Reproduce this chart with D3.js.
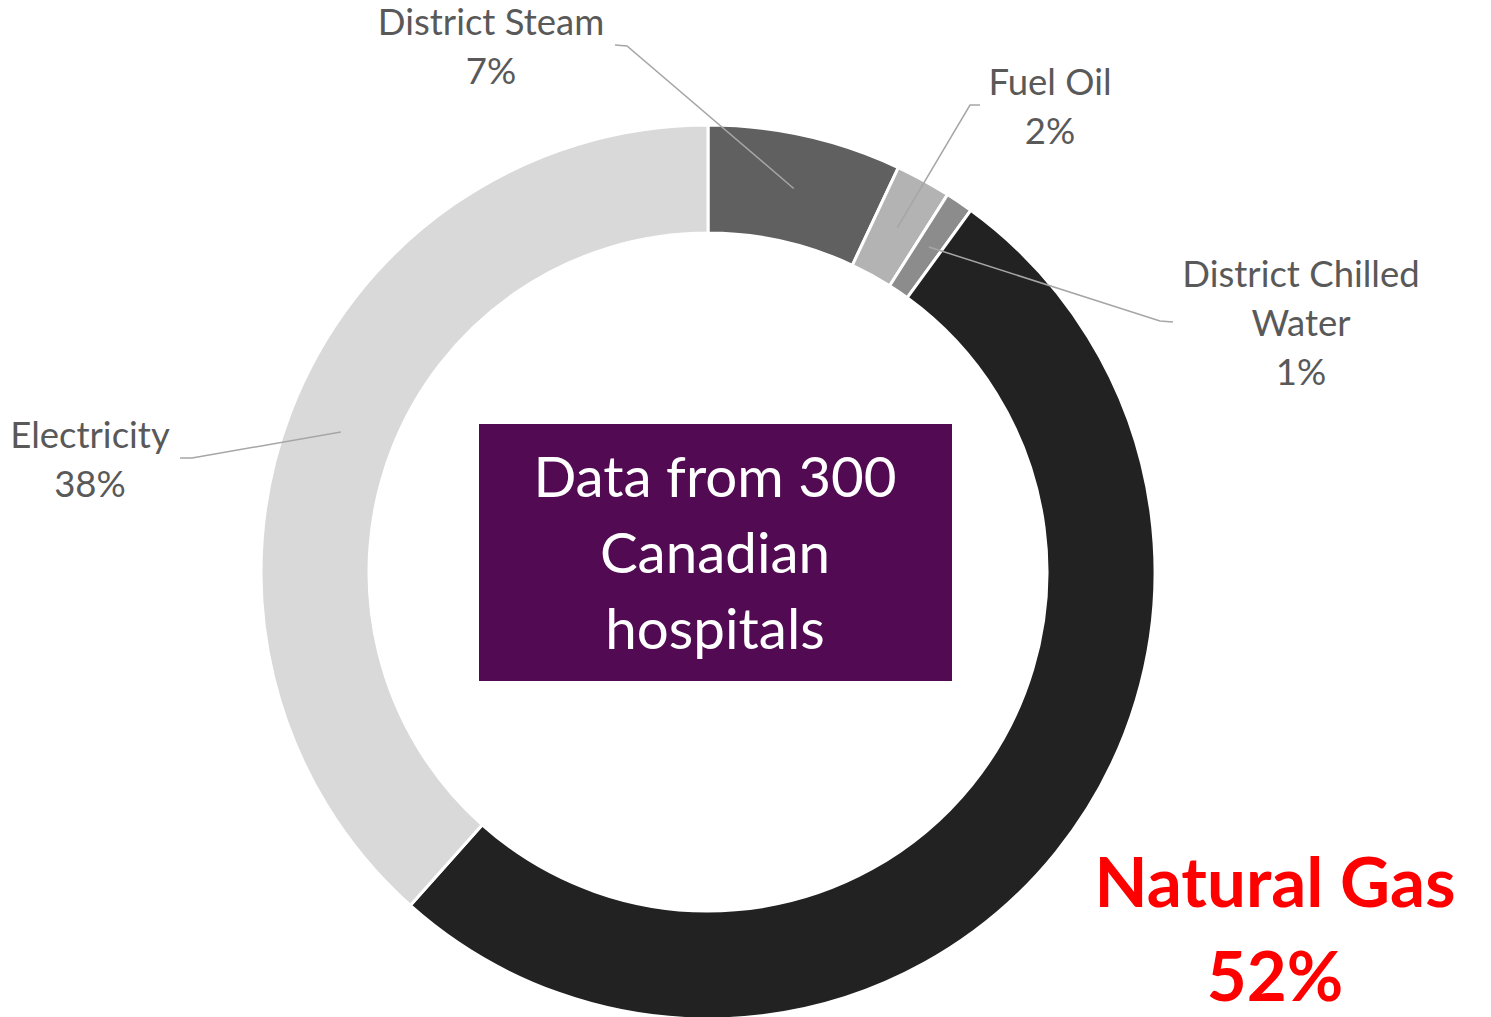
<!DOCTYPE html>
<html>
<head>
<meta charset="utf-8">
<script src="https://cdn.jsdelivr.net/npm/d3@7"></script>
<style>
  html, body { margin: 0; padding: 0; background: #fff; }
  svg { display: block; font-family: Lato, "Open Sans", sans-serif; }
</style>
</head>
<body>
<svg id="chart" width="1491" height="1017"></svg>
<script>
// data, clockwise from 12 o'clock
const sources = ["District Steam", "Fuel Oil", "District Chilled Water", "Natural Gas", "Electricity"];
const shares = [7, 2, 1, 51.6, 38.4];
const sliceColors = ["#606060", "#b3b3b3", "#8c8c8c", "#222222", "#d9d9d9"];
// label lines as shown in the chart
const labelLines = [["District Steam", "7%"], ["Fuel Oil", "2%"], ["District Chilled", "Water", "1%"], ["Natural Gas", "52%"], ["Electricity", "38%"]];
const centerLines = ["Data from 300", "Canadian", "hospitals"];

const svg = d3.select("#chart");
const cx = 708, cy = 572;
const outerR = 447, innerR = 339;

const pie = d3.pie().sort(null).value((d) => d);
const arcs = pie(shares);

const arc = d3.arc().innerRadius(innerR).outerRadius(outerR);
const midArc = d3.arc().innerRadius(393).outerRadius(393);

const g = svg.append("g").attr("transform", `translate(${cx},${cy})`);

g.selectAll("path")
  .data(arcs)
  .enter()
  .append("path")
  .attr("d", arc)
  .attr("fill", (d, i) => sliceColors[i])
  .attr("stroke", "#fff")
  .attr("stroke-width", 3);

// label placement (absolute page coords): text center x, first baseline, elbow points
const labelPos = [
  { x: 491, y: 35, elbow: [[615, 45], [627, 46]] },
  { x: 1050, y: 95, elbow: [[980, 105], [970, 105]] },
  { x: 1301, y: 287, elbow: [[1173, 322], [1160, 321]] },
  null,
  { x: 90, y: 448, elbow: [[180, 458], [192, 458]] },
];

const line = d3.line();

arcs.forEach((a, i) => {
  const p = labelPos[i];
  if (!p) return;
  const c = midArc.centroid(a);
  const pts = [...p.elbow, [c[0] + cx, c[1] + cy]];
  svg.append("path")
    .attr("d", line(pts))
    .attr("fill", "none")
    .attr("stroke", "#a6a6a6")
    .attr("stroke-width", 1.5);

  const t = svg.append("text")
    .attr("x", p.x)
    .attr("y", p.y)
    .attr("text-anchor", "middle")
    .attr("fill", "#595959")
    .style("font-size", "36.5px");
  labelLines[i].forEach((s, k) => {
    t.append("tspan").attr("x", p.x).attr("dy", k === 0 ? 0 : 49).text(s);
  });
});

// natural gas callout
const ng = svg.append("text")
  .attr("text-anchor", "middle")
  .attr("fill", "#ff0000")
  .style("font-size", "69px")
  .style("font-weight", "bold");
labelLines[3].forEach((s, k) => {
  ng.append("tspan").attr("x", 1275).attr("y", 907 + k * 94).text(s);
});

// center box
svg.append("rect")
  .attr("x", 479)
  .attr("y", 424)
  .attr("width", 473)
  .attr("height", 257)
  .attr("fill", "#520b52");

const ct = svg.append("text")
  .attr("text-anchor", "middle")
  .attr("fill", "#fff")
  .style("font-size", "56.5px");
centerLines.forEach((s, k) => {
  ct.append("tspan").attr("x", 715).attr("y", 497 + k * 76).text(s);
});
</script>
</body>
</html>
